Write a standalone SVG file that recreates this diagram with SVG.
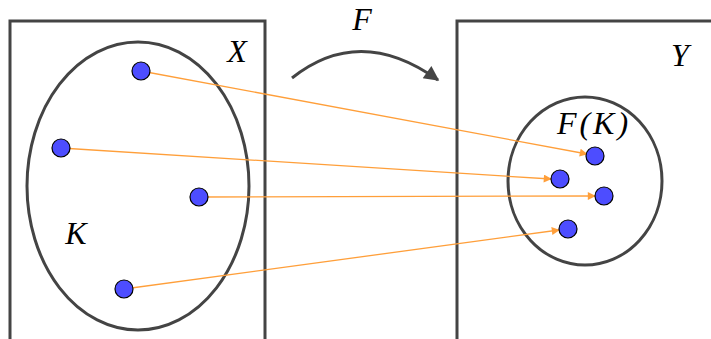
<svg xmlns="http://www.w3.org/2000/svg" width="711" height="339" viewBox="0 0 711 339">
<style>
.frame{fill:none;stroke:#444;stroke-width:3}
.set{fill:none;stroke:#444;stroke-width:3}
.dot{fill:#4d4dff;stroke:#000;stroke-width:1.2}
.map{stroke:#ff9f3a;stroke-width:1.3;fill:none}
text{font-family:'Liberation Serif',serif;font-style:italic;font-size:32px;fill:#000}
</style>
<defs>
<marker id="ah" viewBox="0 0 10 10" refX="9" refY="5" markerWidth="11" markerHeight="8" markerUnits="userSpaceOnUse" orient="auto">
<path d="M0,0 L10,5 L0,10 z" fill="#ff9f3a"/>
</marker>
<marker id="bh" viewBox="0 0 10 10" refX="9" refY="5" markerWidth="24" markerHeight="15" markerUnits="userSpaceOnUse" orient="auto">
<path d="M0,0 L10,5 L0,10 z" fill="#444"/>
</marker>
</defs>
<g id="X">
<path class="frame" d="M10,339 L10,21 L265,21 L265,339"/>
<text x="237" y="62" text-anchor="middle">X</text>
</g>
<g id="Y">
<path class="frame" d="M457,339 L457,21 L711,21"/>
<text x="680" y="66" text-anchor="middle">Y</text>
</g>
<g id="K">
<ellipse class="set" cx="138" cy="186" rx="111" ry="144"/>
<text x="76" y="244" text-anchor="middle">K</text>
</g>
<g id="FK">
<ellipse class="set" cx="585" cy="181" rx="77" ry="84"/>
<text x="594" y="134" text-anchor="middle" letter-spacing="3">F(K)</text>
</g>
<g id="connectors">
<line class="map" x1="141" y1="71" x2="587" y2="154" marker-end="url(#ah)"/>
<line class="map" x1="61" y1="148" x2="551" y2="179" marker-end="url(#ah)"/>
<line class="map" x1="199" y1="197" x2="595" y2="196" marker-end="url(#ah)"/>
<line class="map" x1="124" y1="289" x2="559" y2="230" marker-end="url(#ah)"/>
<path d="M292,78 Q360,24 438,80" fill="none" stroke="#444" stroke-width="3" marker-end="url(#bh)"/>
<text x="362" y="30" text-anchor="middle">F</text>
</g>
<g id="points">
<circle class="dot" cx="141" cy="71" r="9"/>
<circle class="dot" cx="61" cy="148" r="9"/>
<circle class="dot" cx="199" cy="197" r="9"/>
<circle class="dot" cx="124" cy="289" r="9"/>
<circle class="dot" cx="595" cy="156" r="9"/>
<circle class="dot" cx="560" cy="179" r="9"/>
<circle class="dot" cx="604" cy="196" r="9"/>
<circle class="dot" cx="568" cy="229" r="9"/>
</g>
</svg>
